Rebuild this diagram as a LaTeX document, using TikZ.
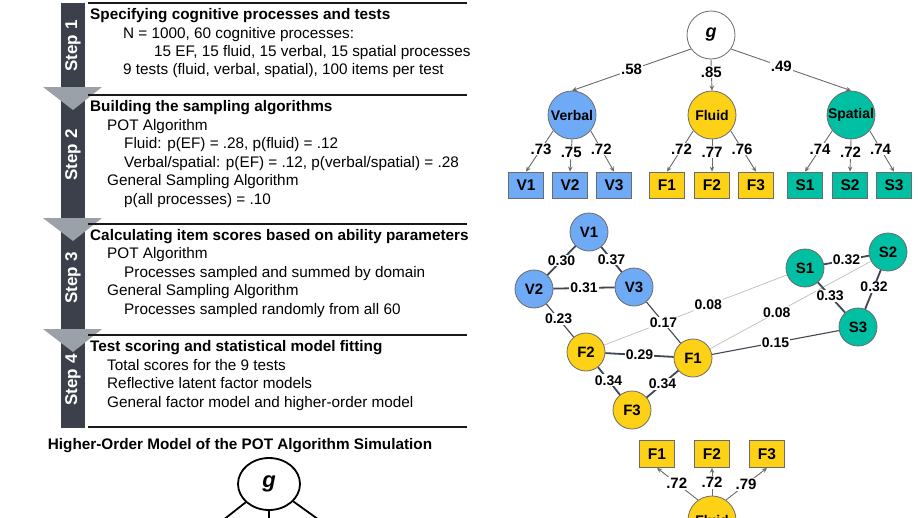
\documentclass[tikz,border=0pt]{standalone}
\usepackage{fontspec}
\setmainfont{Liberation Sans}
\usetikzlibrary{arrows.meta,shapes.geometric}
\definecolor{barc}{HTML}{3B404A}
\definecolor{arrc}{HTML}{9BA1A9}
\definecolor{vblue}{HTML}{6EAAF5}
\definecolor{fyel}{HTML}{FCD116}
\definecolor{steal}{HTML}{00BFA3}
\definecolor{edgec}{HTML}{3F4654}
\definecolor{lgray}{HTML}{BDBDBD}
\definecolor{olc}{HTML}{6B6B6B}
\begin{document}
\begin{tikzpicture}[x=1pt,y=-1pt,
  regtext/.style={anchor=base west, inner sep=0pt, font=\fontsize{15.3}{18}\selectfont},
  headtext/.style={anchor=base west, inner sep=0pt, font=\fontsize{15.3}{18}\selectfont\bfseries},
  steplabel/.style={rotate=90, text=white, inner sep=0pt, font=\fontsize{17}{20}\selectfont\bfseries},
  latent/.style={circle, draw=olc, line width=0.8pt, minimum size=48pt, inner sep=0pt, font=\fontsize{14}{16}\selectfont\bfseries},
  obsbox/.style={rectangle, draw=olc, line width=0.8pt, minimum width=35pt, minimum height=26pt, inner sep=0pt, font=\fontsize{15.5}{18}\selectfont\bfseries},
  netnode/.style={circle, draw=olc, line width=0.8pt, minimum size=38pt, inner sep=0pt, font=\fontsize{15}{16}\selectfont\bfseries},
  loadarrow/.style={draw=olc, line width=0.9pt, -{Stealth[length=5pt,width=4.5pt]}},
  loadlbl/.style={fill=white, inner sep=1pt, font=\fontsize{15}{16}\selectfont\bfseries},
  netlbl/.style={fill=white, inner sep=1pt, font=\fontsize{14}{15}\selectfont\bfseries},
  strongedge/.style={draw=edgec, line width=1.8pt},
  weakedge/.style={draw=edgec, line width=1.1pt},
  faintedge/.style={draw=lgray, line width=0.7pt},
  ruleline/.style={draw=black!90, line width=2pt},
  steparrow/.style={fill=arrc, draw=none},
  blackline/.style={draw=black, line width=1.8pt}
]
\useasboundingbox (0,0) rectangle (918,517);
\clip (0,0) rectangle (918,517);

% ---------- left: steps ----------
\fill[barc] (61,3) rectangle (85,428);
\foreach \t in {87,218,329}{
  \fill[steparrow] (43,\t) -- (102,\t) -- (73,\t+23) -- cycle;
}
\foreach \r in {3,95,224,335,427}{
  \draw[ruleline] (88,\r) -- (467,\r);
}
\node[steplabel] (s1) at (73,46) {Step 1};
\node[steplabel] (s2) at (73,155) {Step 2};
\node[steplabel] (s3) at (73,278) {Step 3};
\node[steplabel] (s4) at (73,380) {Step 4};

\node[headtext] (h1) at (90,19) {Specifying cognitive processes and tests};
\node[regtext] (t11) at (123,38) {N = 1000, 60 cognitive processes:};
\node[regtext] (t12) at (154,56) {15 EF, 15 fluid, 15 verbal, 15 spatial processes};
\node[regtext] (t13) at (123,74) {9 tests (fluid, verbal, spatial), 100 items per test};

\node[headtext] (h2) at (90,111) {Building the sampling algorithms};
\node[regtext] (t21) at (107,130) {POT Algorithm};
\node[regtext] (t22) at (124,148.5) {Fluid: p(EF) = .28, p(fluid) = .12};
\node[regtext] (t23) at (124,167) {Verbal/spatial: p(EF) = .12, p(verbal/spatial) = .28};
\node[regtext] (t24) at (107,185.5) {General Sampling Algorithm};
\node[regtext] (t25) at (124,204) {p(all processes) = .10};

\node[headtext] (h3) at (90,240) {Calculating item scores based on ability parameters};
\node[regtext] (t31) at (107,258.5) {POT Algorithm};
\node[regtext] (t32) at (124,277) {Processes sampled and summed by domain};
\node[regtext] (t33) at (107,295.5) {General Sampling Algorithm};
\node[regtext] (t34) at (124,314) {Processes sampled randomly from all 60};

\node[headtext] (h4) at (90,351) {Test scoring and statistical model fitting};
\node[regtext] (t41) at (107,370) {Total scores for the 9 tests};
\node[regtext] (t42) at (107,388.5) {Reflective latent factor models};
\node[regtext] (t43) at (107,407) {General factor model and higher-order model};

\node[inner sep=0pt, font=\fontsize{15.3}{18}\selectfont\bfseries] (title) at (240,446) {Higher-Order Model of the POT Algorithm Simulation};

% bottom-left g
\node[ellipse, draw=black, line width=1.8pt, minimum width=62pt, minimum height=52pt, inner sep=0pt, font=\fontsize{22}{24}\selectfont\bfseries\itshape] (gb) at (269,484) {g};
\coordinate (bl) at (185,550);
\coordinate (bc) at (269,550);
\coordinate (br) at (361,550);
\draw[blackline] (gb) -- (bl);
\draw[blackline] (gb) -- (bc);
\draw[blackline] (gb) -- (br);

% ---------- top right: higher-order model ----------
\node[latent, fill=white, font=\fontsize{18}{20}\selectfont\bfseries\itshape] (g) at (711,35) {g};
\node[latent, fill=vblue] (Verbal) at (572,115) {Verbal};
\node[latent, fill=fyel] (Fluid) at (712,115) {Fluid};
\node[latent, fill=steal] (Spatial) at (851,115) {Spatial};

\node[obsbox, fill=vblue] (V1b) at (526,185) {V1};
\node[obsbox, fill=vblue] (V2b) at (570,185) {V2};
\node[obsbox, fill=vblue] (V3b) at (614,185) {V3};
\node[obsbox, fill=fyel] (F1b) at (667,185) {F1};
\node[obsbox, fill=fyel] (F2b) at (712,185) {F2};
\node[obsbox, fill=fyel] (F3b) at (756,185) {F3};
\node[obsbox, fill=steal] (S1b) at (805,185) {S1};
\node[obsbox, fill=steal] (S2b) at (850,185) {S2};
\node[obsbox, fill=steal] (S3b) at (894,185) {S3};

\draw[loadarrow] (g.215) -- node[loadlbl,pos=.5]{.58} (Verbal.north);
\draw[loadarrow] (g.south) -- node[loadlbl,pos=.4]{.85} (Fluid.north);
\draw[loadarrow] (g.-35) -- node[loadlbl,pos=.42]{.49} (Spatial.north);

\draw[loadarrow] (Verbal.220) -- node[loadlbl,pos=.45]{.73} (V1b.north);
\draw[loadarrow] (Verbal.south) -- node[loadlbl,pos=.4]{.75} (V2b.north);
\draw[loadarrow] (Verbal.-40) -- node[loadlbl,pos=.45]{.72} (V3b.north);
\draw[loadarrow] (Fluid.220) -- node[loadlbl,pos=.45]{.72} (F1b.north);
\draw[loadarrow] (Fluid.south) -- node[loadlbl,pos=.4]{.77} (F2b.north);
\draw[loadarrow] (Fluid.-40) -- node[loadlbl,pos=.45]{.76} (F3b.north);
\draw[loadarrow] (Spatial.220) -- node[loadlbl,pos=.45]{.74} (S1b.north);
\draw[loadarrow] (Spatial.south) -- node[loadlbl,pos=.4]{.72} (S2b.north);
\draw[loadarrow] (Spatial.-40) -- node[loadlbl,pos=.45]{.74} (S3b.north);

% ---------- network ----------
\node[netnode, fill=vblue] (V1) at (589,232) {V1};
\node[netnode, fill=vblue] (V2) at (534,289) {V2};
\node[netnode, fill=vblue] (V3) at (634,287) {V3};
\node[netnode, fill=fyel] (F2) at (586,352) {F2};
\node[netnode, fill=fyel] (F1) at (693,358) {F1};
\node[netnode, fill=fyel] (F3) at (632,410) {F3};
\node[netnode, fill=steal] (S1) at (805,268) {S1};
\node[netnode, fill=steal] (S2) at (888,252) {S2};
\node[netnode, fill=steal] (S3) at (858,327) {S3};

\draw[faintedge] (F2) -- node[netlbl,pos=.57]{0.08} (S1);
\draw[faintedge] (F1) -- node[netlbl,pos=.415]{0.08} (S2);
\draw[weakedge] (F1) -- node[netlbl,pos=.5]{0.15} (S3);
\draw[weakedge] (V2) -- node[netlbl,pos=.45]{0.23} (F2);
\draw[weakedge] (V3) -- node[netlbl,pos=.5]{0.17} (F1);
\draw[strongedge] (V1) -- node[netlbl,pos=.5]{0.30} (V2);
\draw[strongedge] (V1) -- node[netlbl,pos=.5]{0.37} (V3);
\draw[strongedge] (V2) -- node[netlbl,pos=.5]{0.31} (V3);
\draw[strongedge] (F2) -- node[netlbl,pos=.5]{0.29} (F1);
\draw[strongedge] (F2) -- node[netlbl,pos=.48]{0.34} (F3);
\draw[strongedge] (F1) -- node[netlbl,pos=.5]{0.34} (F3);
\draw[strongedge] (S1) -- node[netlbl,pos=.5]{0.32} (S2);
\draw[strongedge] (S1) -- node[netlbl,pos=.45]{0.33} (S3);
\draw[strongedge] (S2) -- node[netlbl,pos=.43]{0.32} (S3);

% ---------- bottom right: fluid factor ----------
\node[obsbox, fill=fyel, minimum height=27pt] (F1c) at (657,454) {F1};
\node[obsbox, fill=fyel, minimum height=27pt] (F2c) at (712,454) {F2};
\node[obsbox, fill=fyel, minimum height=27pt] (F3c) at (767,454) {F3};
\node[latent, fill=fyel] (Fluid2) at (712,520) {Fluid};
\draw[loadarrow] (Fluid2.125) -- node[loadlbl,pos=.52]{.72} (F1c.south);
\draw[loadarrow] (Fluid2.north) -- node[loadlbl,pos=.48]{.72} (F2c.south);
\draw[loadarrow] (Fluid2.55) -- node[loadlbl,pos=.49]{.79} (F3c.south);
\end{tikzpicture}
\end{document}
